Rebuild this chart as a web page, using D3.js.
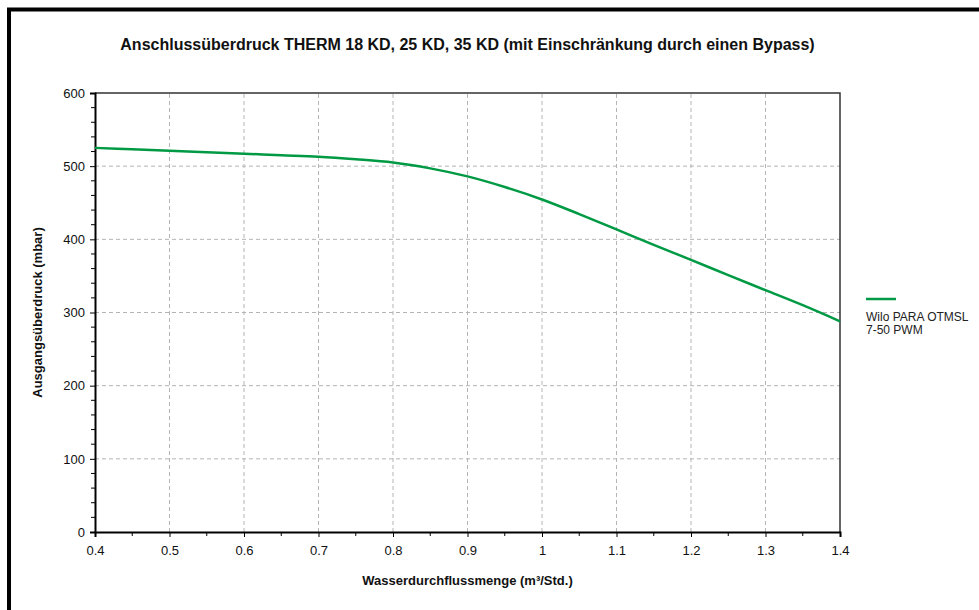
<!DOCTYPE html>
<html>
<head>
<meta charset="utf-8">
<script src="https://cdn.jsdelivr.net/npm/d3@7"></script>
<style>
  body { margin: 0; background: #fff; }
  svg { display: block; font-family: "Liberation Sans", Arial, sans-serif; }
</style>
</head>
<body>
<script>
// data (every 0.05 m³/Std.)
const flow = [0.4, 0.45, 0.5, 0.55, 0.6, 0.65, 0.7, 0.75, 0.8, 0.85, 0.9, 0.95,
              1.0, 1.05, 1.1, 1.15, 1.2, 1.25, 1.3, 1.35, 1.4];
const pressure = [525, 523, 521, 519, 517, 515, 513, 509.5, 505, 497, 486, 471.5,
                  454.5, 434.5, 413.5, 392.5, 372, 351, 330.5, 310, 288];
const xTicks = [0.4, 0.5, 0.6, 0.7, 0.8, 0.9, 1.0, 1.1, 1.2, 1.3, 1.4];
const yTicks = [0, 100, 200, 300, 400, 500, 600];
const seriesName = ["Wilo PARA OTMSL", "7-50 PWM"];
const title = "Anschlussüberdruck THERM 18 KD, 25 KD, 35 KD (mit Einschränkung durch einen Bypass)";
const xLabel = "Wasserdurchflussmenge (m³/Std.)";
const yLabel = "Ausgangsüberdruck (mbar)";

const width = 979, height = 610;
const margin = { left: 95, right: 139, top: 93, bottom: 78 };
const green = "#009a44";

const svg = d3.select("body").append("svg")
  .attr("width", width)
  .attr("height", height);

// outer frame (runs off the right and bottom edges)
svg.append("rect")
  .attr("x", 9).attr("y", 9.5)
  .attr("width", 1200).attr("height", 800)
  .attr("fill", "none")
  .attr("stroke", "#000")
  .attr("stroke-width", 4);

const x = d3.scaleLinear().domain([0.4, 1.4]).range([margin.left, width - margin.right]);
const y = d3.scaleLinear().domain([0, 600]).range([height - margin.bottom, margin.top]);

// grid
svg.append("g")
  .selectAll("line")
  .data(xTicks.slice(1, -1))
  .join("line")
  .attr("x1", d => x(d)).attr("x2", d => x(d))
  .attr("y1", y(0)).attr("y2", y(600))
  .attr("stroke", "#b4b4b4")
  .attr("stroke-dasharray", "4,3");

svg.append("g")
  .selectAll("line")
  .data(yTicks.slice(1, -1))
  .join("line")
  .attr("x1", x(0.4)).attr("x2", x(1.4))
  .attr("y1", d => y(d)).attr("y2", d => y(d))
  .attr("stroke", "#b4b4b4")
  .attr("stroke-dasharray", "4,3");

// top and right border of plot
svg.append("path")
  .attr("d", `M${x(0.4)},${y(600)}H${x(1.4)}V${y(0)}`)
  .attr("fill", "none")
  .attr("stroke", "#333")
  .attr("stroke-width", 1.5);

// minor ticks
const xMinor = d3.range(0.45, 1.4, 0.1);
const yMinor = d3.range(0, 600, 20).filter(v => v % 100 !== 0);

const x_axis = d3.axisBottom(x)
  .tickValues(xTicks)
  .tickSize(5)
  .tickPadding(9)
  .tickFormat(d => d3.format("~g")(d));

const gx = svg.append("g")
  .attr("transform", `translate(0,${y(0)})`)
  .call(x_axis);
gx.selectAll("line").attr("stroke", "#000");
gx.select(".domain").attr("stroke", "#000").attr("stroke-width", 2);
gx.selectAll("text").style("font-size", "13px").attr("fill", "#111");
gx.append("g").selectAll("line")
  .data(xMinor).join("line")
  .attr("x1", d => x(d)).attr("x2", d => x(d))
  .attr("y1", 0).attr("y2", 4)
  .attr("stroke", "#000");

const y_axis = d3.axisLeft(y)
  .tickValues(yTicks)
  .tickSize(5)
  .tickPadding(5);

const gy = svg.append("g")
  .attr("transform", `translate(${x(0.4)},0)`)
  .call(y_axis);
gy.selectAll("line").attr("stroke", "#000");
gy.select(".domain").attr("stroke", "#000").attr("stroke-width", 2);
gy.selectAll("text").style("font-size", "13px").attr("fill", "#111");
gy.append("g").selectAll("line")
  .data(yMinor).join("line")
  .attr("x1", 0).attr("x2", -4)
  .attr("y1", d => y(d)).attr("y2", d => y(d))
  .attr("stroke", "#000");

// the curve
const points = flow.map((f, i) => ({ f: f, p: pressure[i] }));
const line_generator = d3.line()
  .x(d => x(d.f))
  .y(d => y(d.p))
  .curve(d3.curveCatmullRom.alpha(0.5));

svg.append("path")
  .datum(points)
  .attr("fill", "none")
  .attr("stroke", green)
  .attr("stroke-width", 2.5)
  .attr("d", line_generator);

// title
svg.append("text")
  .attr("x", (x(0.4) + x(1.4)) / 2)
  .attr("y", 50)
  .attr("text-anchor", "middle")
  .style("font-size", "16px")
  .style("font-weight", "bold")
  .attr("fill", "#111")
  .text(title);

// axis labels
svg.append("text")
  .attr("x", (x(0.4) + x(1.4)) / 2)
  .attr("y", 585)
  .attr("text-anchor", "middle")
  .style("font-size", "13px")
  .style("font-weight", "bold")
  .attr("fill", "#111")
  .text(xLabel);

svg.append("text")
  .attr("text-anchor", "middle")
  .attr("transform", `translate(42,${(y(0) + y(600)) / 2}) rotate(-90)`)
  .style("font-size", "13px")
  .style("font-weight", "bold")
  .attr("fill", "#111")
  .text(yLabel);

// legend
const legend = svg.append("g").attr("transform", "translate(866,299)");
legend.append("line")
  .attr("x1", 0).attr("x2", 30)
  .attr("stroke", green)
  .attr("stroke-width", 2.5);
legend.append("text")
  .attr("y", 22)
  .style("font-size", "12px")
  .attr("fill", "#222")
  .selectAll("tspan")
  .data(seriesName)
  .join("tspan")
  .attr("x", 0)
  .attr("dy", (d, i) => i === 0 ? 0 : 13)
  .text(d => d);
</script>
</body>
</html>
